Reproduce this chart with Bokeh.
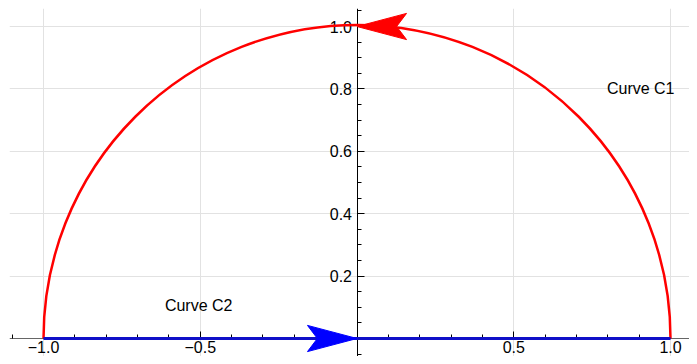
import numpy as np
from bokeh.plotting import figure
from bokeh.models import FixedTicker, Range1d, CustomJSTickFormatter, ColumnDataSource
from bokeh.core.properties import value
from bokeh.embed import file_html
from bokeh.resources import INLINE

# ---- data ----
# Curve C1: upper half of the unit circle, traversed counter-clockwise
arc_cx = [0.0]
arc_cy = [0.0]
arc_radius = 1.0
arc_start = 0.0
arc_end = np.pi
arc_arrow_angle = np.pi / 2          # where the arrowhead sits on C1

# Curve C2: segment on the x axis from -1 to 1
seg_x = [-1.0, 1.0]
seg_y = [0.0, 0.0]

# axis ticks
x_major = [-1.0, -0.5, 0.5, 1.0]
x_labels = ["\u22121.0", "\u22120.5", "0.5", "1.0"]
x_minor = [-1.1, -0.9, -0.8, -0.7, -0.6, -0.4, -0.3, -0.2, -0.1,
           0.1, 0.2, 0.3, 0.4, 0.6, 0.7, 0.8, 0.9]
y_major = [0.2, 0.4, 0.6, 0.8, 1.0]
y_labels = ["0.2", "0.4", "0.6", "0.8", "1.0"]
y_minor = [-0.05, 0.05, 0.1, 0.15, 0.25, 0.3, 0.35, 0.45, 0.5, 0.55,
           0.65, 0.7, 0.75, 0.85, 0.9, 0.95, 1.05]

# curve labels
curve_text = ["Curve C1", "Curve C2"]
curve_text_x = [0.905, -0.505]
curve_text_y = [0.80, 0.105]

FONT = "Liberation Sans"

p = figure(width=689, height=356, output_backend="svg", toolbar_location=None,
           x_range=Range1d(-1.1085, 1.0606), y_range=Range1d(-0.0577, 1.0577),
           min_border=0, min_border_left=9, min_border_right=0,
           min_border_top=8, min_border_bottom=0)
p.outline_line_color = None
p.background_fill_color = "white"
p.border_fill_color = "white"

def fmt(ticks, labels):
    return CustomJSTickFormatter(args=dict(t=ticks, l=labels), code="""
        let best = -1, bd = 1e9;
        for (let i = 0; i < t.length; i++) {
            const d = Math.abs(t[i] - tick);
            if (d < bd) { bd = d; best = i; }
        }
        return bd < 1e-6 ? l[best] : "";
    """)

for ax, maj, mn, lab in ((p.xaxis[0], x_major, x_minor, x_labels),
                         (p.yaxis[0], y_major, y_minor, y_labels)):
    ax.ticker = FixedTicker(ticks=maj, minor_ticks=mn)
    ax.formatter = fmt(maj, lab)
    ax.fixed_location = 0
    ax.major_tick_in = 7
    ax.major_tick_out = 0
    ax.minor_tick_in = 4
    ax.minor_tick_out = 0
    ax.major_label_text_font = FONT
    ax.major_label_text_font_size = "16px"
    ax.major_label_text_color = "black"
    ax.axis_line_width = 1
    ax.major_tick_line_color = "black"
    ax.minor_tick_line_color = "black"

p.xaxis.axis_line_color = "#666666"
p.yaxis.axis_line_color = "black"
p.xaxis.major_label_standoff = 3
p.yaxis.major_label_standoff = 5

p.xgrid.grid_line_color = "#e2e2e2"
p.ygrid.grid_line_color = "#e2e2e2"
p.xgrid.grid_line_width = 1
p.ygrid.grid_line_width = 1

# Curve C1
p.arc(x=arc_cx, y=arc_cy, radius=arc_radius, start_angle=arc_start,
      end_angle=arc_end, line_color="#ff0000", line_width=2.5, level="overlay")

# Curve C2
p.line(seg_x, seg_y, line_color="#1010c8", line_width=3, level="overlay")

# arrowheads (notched), placed on the curves and oriented along them
L, W, N = 0.158, 0.042, 0.80

def arrowhead(tx, ty, dx, dy):
    nx, ny = -dy, dx
    xs = [tx, tx - L * dx + W * nx, tx - N * L * dx, tx - L * dx - W * nx]
    ys = [ty, ty - L * dy + W * ny, ty - N * L * dy, ty - L * dy - W * ny]
    return xs, ys

a = arc_arrow_angle
rx, ry = arrowhead(arc_cx[0] + arc_radius * np.cos(a), arc_cy[0] + arc_radius * np.sin(a),
                   -np.sin(a), np.cos(a))
mx, my = (seg_x[0] + seg_x[1]) / 2, (seg_y[0] + seg_y[1]) / 2
ddx, ddy = seg_x[1] - seg_x[0], seg_y[1] - seg_y[0]
norm = np.hypot(ddx, ddy)
bx, by = arrowhead(mx, my, ddx / norm, ddy / norm)

p.patch(rx, ry, fill_color="#ff0000", line_color="#ff0000", line_width=1, level="overlay")
p.patch(bx, by, fill_color="#0000ff", line_color="#0000ff", line_width=1, level="overlay")

src = ColumnDataSource(dict(x=curve_text_x, y=curve_text_y, t=curve_text))
p.text(x="x", y="y", text="t", source=src, text_font=value(FONT),
       text_font_size="16px", text_align="center", text_baseline="middle",
       text_color="black")

open("out.html", "w").write(file_html(p, INLINE))
